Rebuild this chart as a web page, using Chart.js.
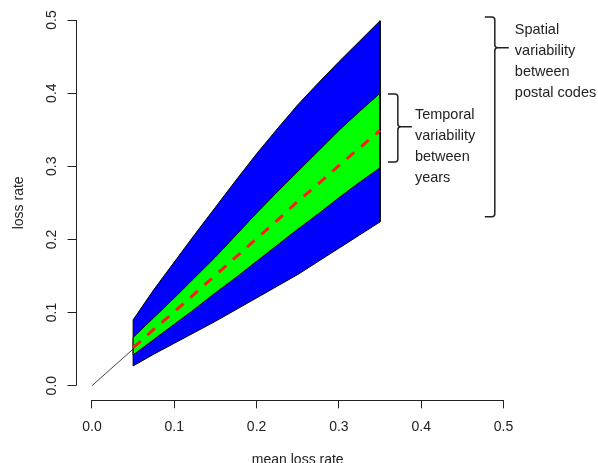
<!DOCTYPE html>
<html>
<head>
<meta charset="utf-8">
<script src="https://cdn.jsdelivr.net/npm/chart.js@4.4.1/dist/chart.umd.min.js"></script>
<style>
  html, body { margin: 0; padding: 0; background: #fff; }
  #wrap { width: 598px; height: 463px; }
</style>
</head>
<body>
<div id="wrap"><canvas id="chart" width="598" height="463"></canvas></div>
<script>
const bandX = [0.05, 0.075, 0.1, 0.125, 0.15, 0.175, 0.2, 0.225, 0.25, 0.275, 0.3, 0.325, 0.35];
// spatial variability between postal codes (blue band)
const spatialUpper = [0.090, 0.131, 0.169, 0.207, 0.244, 0.281, 0.317, 0.351, 0.384, 0.414, 0.443, 0.471, 0.499];
const spatialLower = [0.027, 0.043, 0.058, 0.073, 0.088, 0.104, 0.120, 0.136, 0.152, 0.170, 0.188, 0.206, 0.224];
// temporal variability between years (green band)
const temporalUpper = [0.066, 0.093, 0.120, 0.148, 0.176, 0.206, 0.236, 0.265, 0.293, 0.321, 0.349, 0.375, 0.400];
const temporalLower = [0.042, 0.063, 0.084, 0.105, 0.127, 0.148, 0.170, 0.192, 0.214, 0.235, 0.257, 0.278, 0.298];
// mean (red dashed)
const meanLoss = [0.052, 0.077, 0.101, 0.126, 0.151, 0.176, 0.201, 0.226, 0.252, 0.276, 0.301, 0.325, 0.349];
// thin line from the origin
const originX = [0, 0.05];
const originY = [0, 0.05];
const axisTicks = [0, 0.1, 0.2, 0.3, 0.4, 0.5];

const textFont = '"Liberation Sans", Arial, sans-serif';

function band(upper, lower) {
  const pts = bandX.map((x, i) => ({ x: x, y: upper[i] }));
  for (let i = bandX.length - 1; i >= 0; i--) pts.push({ x: bandX[i], y: lower[i] });
  pts.push(pts[0]);
  return pts;
}

// brackets + labels on the right, anchored in data units
const braces = [
  { x: 0.4894, top: 0.504, bottom: 0.231, nub: 0.462, textX: 0.5137, textY: 0.4815,
    lines: ["Spatial", "variability", "between", "postal codes"] },
  { x: 0.3716, top: 0.3988, bottom: 0.3058, nub: 0.354, textX: 0.3923, textY: 0.3653,
    lines: ["Temporal", "variability", "between", "years"] }
];

function drawBrace(ctx, px, top, bottom, nub) {
  const r = 3, arm = 10, nubLen = 14;
  ctx.beginPath();
  ctx.moveTo(px - arm, top);
  ctx.lineTo(px - r, top);
  ctx.quadraticCurveTo(px, top, px, top + r);
  ctx.lineTo(px, nub - r);
  ctx.quadraticCurveTo(px, nub, px + r, nub);
  ctx.lineTo(px + nubLen, nub);
  ctx.moveTo(px + r, nub);
  ctx.quadraticCurveTo(px, nub, px, nub + r);
  ctx.lineTo(px, bottom - r);
  ctx.quadraticCurveTo(px, bottom, px - r, bottom);
  ctx.lineTo(px - arm, bottom);
  ctx.stroke();
}

const extras = {
  id: 'extras',
  afterDraw(chart) {
    const { ctx, chartArea } = chart;
    const xs = chart.scales.x, ys = chart.scales.y;
    ctx.save();
    ctx.strokeStyle = '#222';
    ctx.lineWidth = 1;
    // R style axis lines: only from first to last tick
    const yb = Math.round(chartArea.bottom) + 0.5;
    const xl = Math.round(chartArea.left) + 0.5;
    ctx.beginPath();
    ctx.moveTo(xs.getPixelForValue(axisTicks[0]), yb);
    ctx.lineTo(xs.getPixelForValue(axisTicks[axisTicks.length - 1]), yb);
    ctx.moveTo(xl, ys.getPixelForValue(axisTicks[0]));
    ctx.lineTo(xl, ys.getPixelForValue(axisTicks[axisTicks.length - 1]));
    ctx.stroke();

    ctx.lineWidth = 1.5;
    ctx.fillStyle = '#222';
    ctx.font = '14.5px ' + textFont;
    ctx.textAlign = 'left';
    ctx.textBaseline = 'alphabetic';
    braces.forEach(b => {
      drawBrace(ctx, xs.getPixelForValue(b.x), ys.getPixelForValue(b.top),
        ys.getPixelForValue(b.bottom), ys.getPixelForValue(b.nub));
      const tx = xs.getPixelForValue(b.textX);
      const ty = ys.getPixelForValue(b.textY);
      b.lines.forEach((s, i) => ctx.fillText(s, tx, ty + i * 21.3));
    });
    ctx.restore();
  }
};

const fixedTicks = scale => { scale.ticks = axisTicks.map(v => ({ value: v })); };
const noOverflow = s => { s.paddingTop = 0; s.paddingBottom = 0; s.paddingLeft = 0; s.paddingRight = 0; };

new Chart(document.getElementById('chart'), {
  type: 'scatter',
  data: {
    datasets: [
      {
        data: bandX.map((x, i) => ({ x: x, y: meanLoss[i] })),
        showLine: true,
        borderColor: '#ff1a1a',
        borderWidth: 3,
        borderDash: [10, 9],
        pointRadius: 0,
        fill: false
      },
      {
        data: band(temporalUpper, temporalLower),
        showLine: true,
        borderColor: '#000',
        borderWidth: 1,
        backgroundColor: '#00ff00',
        fill: 'shape',
        pointRadius: 0
      },
      {
        data: band(spatialUpper, spatialLower),
        showLine: true,
        borderColor: '#000',
        borderWidth: 1,
        backgroundColor: '#0000ff',
        fill: 'shape',
        pointRadius: 0
      },
      {
        data: originX.map((x, i) => ({ x: x, y: originY[i] })),
        showLine: true,
        borderColor: '#444',
        borderWidth: 1,
        pointRadius: 0,
        fill: false
      }
    ]
  },
  options: {
    responsive: false,
    animation: false,
    layout: { padding: { left: 0, right: 78, top: 5.4, bottom: 0 } },
    plugins: {
      legend: { display: false },
      tooltip: { enabled: false }
    },
    scales: {
      x: {
        type: 'linear',
        min: -0.02,
        max: 0.52,
        afterBuildTicks: fixedTicks,
        afterFit: s => { s.height = 62.7; noOverflow(s); },
        border: { display: false },
        grid: { drawOnChartArea: false, drawTicks: true, tickLength: 8, color: '#222' },
        ticks: {
          padding: 10,
          color: '#222',
          font: { family: textFont, size: 14 },
          maxRotation: 0,
          callback: v => v.toFixed(1)
        },
        title: {
          display: true,
          text: 'mean loss rate',
          color: '#222',
          font: { family: textFont, size: 14 },
          padding: { top: 0, bottom: -6 }
        }
      },
      y: {
        type: 'linear',
        min: -0.02,
        max: 0.52,
        afterBuildTicks: fixedTicks,
        afterFit: s => { s.width = 75.5; noOverflow(s); },
        border: { display: false },
        grid: { drawOnChartArea: false, drawTicks: true, tickLength: 8, color: '#222' },
        ticks: {
          padding: 6,
          color: '#222',
          font: { family: textFont, size: 14 },
          minRotation: 90,
          maxRotation: 90,
          crossAlign: 'center',
          callback: v => v.toFixed(1)
        },
        title: {
          display: true,
          text: 'loss rate',
          color: '#222',
          font: { family: textFont, size: 14 },
          padding: { top: 10.5, bottom: 0 }
        }
      }
    }
  },
  plugins: [extras]
});
</script>
</body>
</html>
